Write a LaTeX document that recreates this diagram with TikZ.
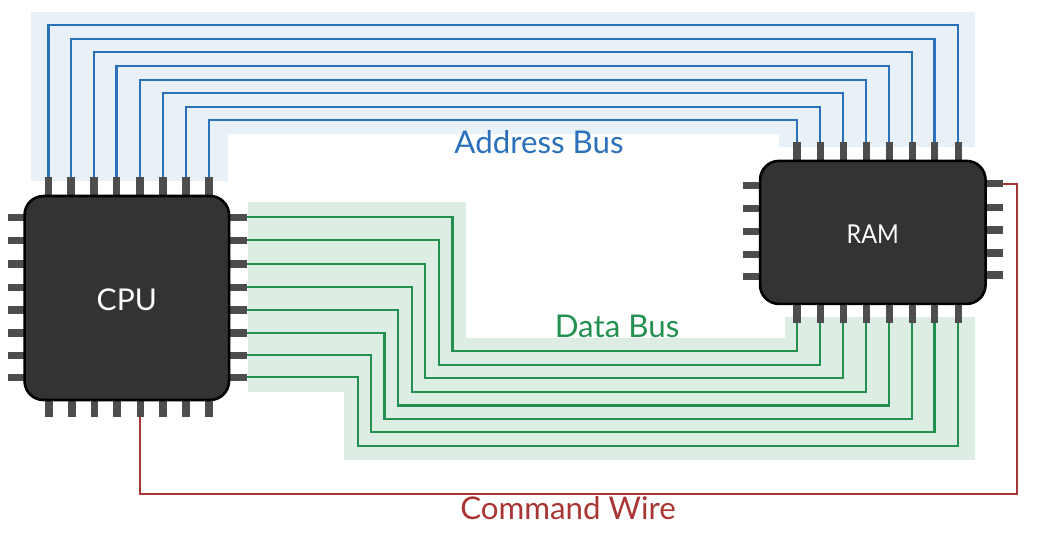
\documentclass[tikz,border=0pt]{standalone}
\usepackage{graphicx}
\usepackage{fontspec}
\setmainfont{Lato}
\pgfdeclarelayer{bands}
\pgfdeclarelayer{wires}
\pgfsetlayers{bands,wires,main}
\definecolor{addrband}{HTML}{E8F0F8}
\definecolor{databand}{HTML}{DEEDE4}
\definecolor{addrwire}{HTML}{2A70BA}
\definecolor{datawire}{HTML}{22904F}
\definecolor{cmdwire}{HTML}{A93535}
\definecolor{chipfill}{HTML}{333333}
\definecolor{pinfill}{HTML}{4D4D4D}
\tikzset{
  x=1pt,y=-1pt,
  chip/.style={draw=black,fill=chipfill,line width=2.6pt,rounded corners=19pt,inner sep=0pt,text=white},
  vpin/.style={fill=pinfill,inner sep=0pt,minimum width=7.6pt,minimum height=#1},
  hpin/.style={fill=pinfill,inner sep=0pt,minimum height=7.2pt,minimum width=#1},
  addr/.style={draw=addrwire,line width=2.3pt},
  data/.style={draw=datawire,line width=2.3pt},
  cmd/.style={draw=cmdwire,line width=2pt},
  lab/.style={inner sep=0pt,font=\fontsize{31.3}{35}\selectfont},
}
\begin{document}
\begin{tikzpicture}
\useasboundingbox (0,0) rectangle (1040,538);
% pins, CPU
\foreach \i/\x in {1/48.5,2/71,3/93.7,4/116.4,5/139.8,6/162.8,7/185.8,8/209}{
  \node[vpin=19pt] (ct\i) at (\x,186.5) {};
}
\foreach \i/\x in {1/49,2/71.7,3/94.5,4/117,5/140.3,6/163,7/186,8/209}{
  \node[vpin=17pt] (cb\i) at (\x,408.5) {};
}
\foreach \i/\y in {1/217.3,2/240.3,3/264,4/287.3,5/310,6/333,7/355.3,8/377.3}{
  \node[hpin=16.5pt] (cl\i) at (16.3,\y) {};
  \node[hpin=18pt] (cr\i) at (238,\y) {};
}
% pins, RAM
\foreach \i/\x in {1/797,2/820.3,3/843.3,4/866.3,5/889.3,6/912.3,7/934.5,8/958.3}{
  \node[vpin=19pt] (rt\i) at (\x,151.5) {};
  \node[vpin=19pt] (rb\i) at (\x,313.5) {};
}
\foreach \i/\y in {1/185.3,2/208.3,3/231.3,4/254.3,5/276.3}{
  \node[hpin=17pt] (rl\i) at (751.5,\y) {};
}
\foreach \i/\y in {1/183.7,2/207.3,3/230,4/253,5/275}{
  \node[hpin=17.5pt] (rr\i) at (994.5,\y) {};
}
% chips
\node[chip,minimum width=204.5pt,minimum height=204pt,font=\fontsize{30}{34}\selectfont] (cpu) at (126.8,298) {\raisebox{-2pt}[\height][\depth]{CPU}};
\node[chip,minimum width=225.5pt,minimum height=143pt,font=\fontsize{26}{30}\selectfont] (ram) at (872.8,232.4) {\raisebox{-1.5pt}[\height][\depth]{\scalebox{0.9}[1]{RAM}}};
% labels
\node[lab,text=addrwire] (addrlab) at (539,142) {Address Bus};
\node[lab,text=datawire] (datalab) at (617,326) {Data Bus};
\node[lab,text=cmdwire] (cmdlab) at (568,508.5) {Command Wire};
% bands
\begin{pgfonlayer}{bands}
\fill[addrband] (31,12) -- (975,12) -- (975,147) -- (779,147) -- (779,134) -- (228,134) -- (228,181) -- (31,181) -- cycle;
\fill[databand] (248,202) -- (466,202) -- (466,338) -- (785,338) -- (785,317) -- (975,317) -- (975,460) -- (344,460) -- (344,392) -- (248,392) -- cycle;
\end{pgfonlayer}
% wires
\begin{pgfonlayer}{wires}
\foreach \i/\y in {1/25,2/38.7,3/52,4/66,5/79.7,6/93,7/106.7,8/120}{
  \pgfmathtruncatemacro{\j}{9-\i}
  \draw[addr] (ct\i.center) -- (ct\i.center |- 0,\y) -- (rt\j.center |- 0,\y) -- (rt\j.center);
}
\foreach \i/\x/\y in {1/452.5/351,2/438.7/365,3/425/378,4/412/392,5/398/405.5,6/384.5/418.7,7/371/432,8/357.7/445.7}{
  \draw[data] (cr\i.center) -- (\x,0 |- cr\i.center) -- (\x,\y) -- (rb\i.center |- 0,\y) -- (rb\i.center);
}
\draw[cmd] (cb5.center) -- (cb5.center |- 0,494) -- (1017,494) -- (1017,0 |- rr1.center) -- (rr1.center);
\end{pgfonlayer}
\end{tikzpicture}
\end{document}
